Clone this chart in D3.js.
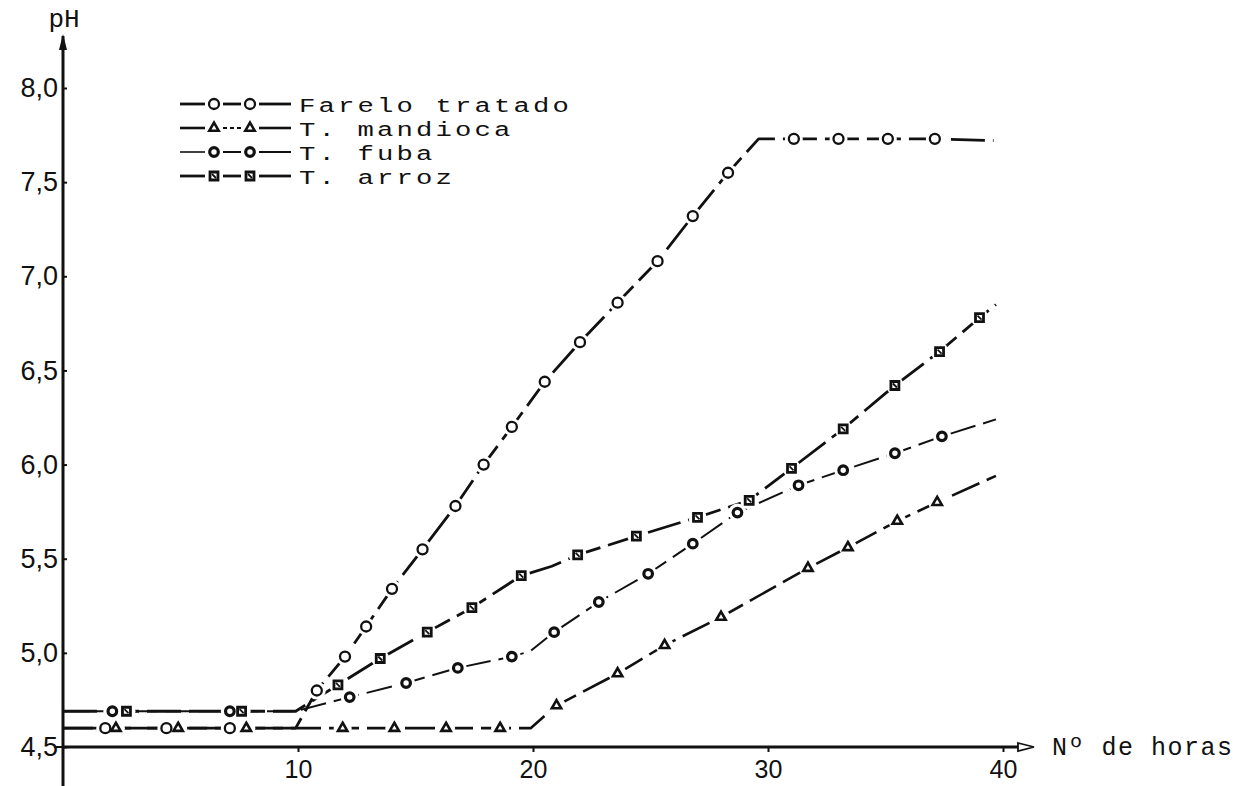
<!DOCTYPE html>
<html>
<head>
<meta charset="utf-8">
<script src="https://cdn.jsdelivr.net/npm/d3@7.9.0/dist/d3.min.js"></script>
<style>
  body { margin: 0; background: #fff; }
  svg { display: block; }
  .num { font-family: "Liberation Sans", "DejaVu Sans", sans-serif; font-size: 26px; fill: #111; }
  .type { font-family: "Liberation Mono", "DejaVu Sans Mono", monospace; fill: #111; }
</style>
</head>
<body>
<svg id="chart" width="1235" height="786"></svg>
<script>
// series names as in the legend
const seriesNames = ['Farelo tratado', 'T. mandioca', 'T. fuba', 'T. arroz'];

// [hours, pH, symbol drawn (1) or just a bend of the line (0)]
const farelo = [
  [0, 4.6, 0], [1.8, 4.6, 1], [4.4, 4.6, 1], [7.1, 4.6, 1], [9.9, 4.6, 0],
  [10.8, 4.8, 1], [12.0, 4.98, 1], [12.9, 5.14, 1], [14.0, 5.34, 1], [15.3, 5.55, 1],
  [16.7, 5.78, 1], [17.9, 6.0, 1], [19.1, 6.2, 1], [20.5, 6.44, 1], [22.0, 6.65, 1],
  [23.6, 6.86, 1], [25.3, 7.08, 1], [26.8, 7.32, 1], [28.3, 7.55, 1], [29.6, 7.73, 0],
  [31.1, 7.73, 1], [33.0, 7.73, 1], [35.1, 7.73, 1], [37.1, 7.73, 1], [39.6, 7.72, 0]
];
const mandioca = [
  [0, 4.6, 0], [2.25, 4.6, 1], [4.9, 4.6, 1], [7.8, 4.6, 1],
  [11.9, 4.6, 1], [14.1, 4.6, 1], [16.3, 4.6, 1], [18.6, 4.6, 1], [19.9, 4.6, 0],
  [21.0, 4.72, 1], [23.6, 4.89, 1], [25.6, 5.04, 1], [28.0, 5.19, 1], [31.7, 5.45, 1],
  [33.4, 5.56, 1], [35.5, 5.7, 1], [37.2, 5.8, 1], [39.7, 5.94, 0]
];
const fuba = [
  [0, 4.69, 0], [2.1, 4.69, 1], [7.1, 4.69, 1], [9.9, 4.69, 0],
  [12.2, 4.765, 1], [14.6, 4.84, 1], [16.8, 4.92, 1], [19.1, 4.98, 1], [19.9, 5.01, 0],
  [20.9, 5.11, 1], [22.8, 5.27, 1], [24.9, 5.42, 1], [26.8, 5.58, 1], [28.7, 5.745, 1],
  [31.3, 5.89, 1], [33.2, 5.97, 1], [35.4, 6.06, 1], [37.4, 6.15, 1], [39.7, 6.24, 0]
];
const arroz = [
  [0, 4.69, 0], [2.7, 4.69, 1], [7.6, 4.69, 1], [9.9, 4.69, 0],
  [11.7, 4.83, 1], [13.5, 4.97, 1], [15.5, 5.11, 1], [17.4, 5.24, 1], [19.5, 5.41, 1],
  [20.8, 5.46, 0], [21.9, 5.52, 1], [24.4, 5.62, 1], [27.0, 5.72, 1], [29.2, 5.81, 1],
  [31.0, 5.98, 1], [33.2, 6.19, 1], [35.4, 6.42, 1], [37.3, 6.6, 1], [39.0, 6.78, 1],
  [39.7, 6.85, 0]
];

const yTicks = [4.5, 5.0, 5.5, 6.0, 6.5, 7.0, 7.5, 8.0];
const xTicks = [10, 20, 30, 40];

const svg = d3.select('#chart');

const x = d3.scaleLinear().domain([0, 40]).range([63, 1003]);
const y = d3.scaleLinear().domain([4.5, 8.0]).range([747, 88]);

// line and symbol style per series
const styles = [
  { data: farelo,   kind: 'circle',   dash: '34,8', width: 2.8 },
  { data: mandioca, kind: 'triangle', dash: '30,8', width: 2.6 },
  { data: fuba,     kind: 'dot',      dash: '26,8', width: 2.0 },
  { data: arroz,    kind: 'square',   dash: '34,8', width: 2.8 }
];

function drawMark(g, kind, cx, cy) {
  if (kind === 'circle') {
    g.append('circle').attr('cx', cx).attr('cy', cy).attr('r', 5)
      .attr('fill', '#fff').attr('stroke', '#111').attr('stroke-width', 2.3);
  } else if (kind === 'dot') {
    g.append('circle').attr('cx', cx).attr('cy', cy).attr('r', 4.3)
      .attr('fill', '#fff').attr('stroke', '#111').attr('stroke-width', 3.2);
  } else if (kind === 'triangle') {
    g.append('path').attr('transform', `translate(${cx},${cy})`)
      .attr('d', d3.symbol(d3.symbolTriangle, 38)())
      .attr('fill', '#fff').attr('stroke', '#111').attr('stroke-width', 2.6);
  } else {
    g.append('path').attr('transform', `translate(${cx},${cy})`)
      .attr('d', d3.symbol(d3.symbolSquare, 64)())
      .attr('fill', '#fff').attr('stroke', '#111').attr('stroke-width', 2.8);
    g.append('line').attr('x1', cx - 2).attr('y1', cy - 2).attr('x2', cx + 2).attr('y2', cy + 2)
      .attr('stroke', '#111').attr('stroke-width', 1.8);
  }
}

// axes
const yAxis = d3.axisLeft(y).tickValues(yTicks).tickSize(-4).tickPadding(5)
  .tickFormat(d => d3.format('.1f')(d).replace('.', ','));
const yg = svg.append('g').attr('transform', `translate(${x(0)},0)`).call(yAxis);
yg.select('.domain').remove();
yg.selectAll('.tick line').attr('stroke', '#111').attr('stroke-width', 2);
yg.selectAll('.tick text').attr('class', 'num').style('font-size', '27px');

const xAxis = d3.axisBottom(x).tickValues(xTicks).tickSize(5).tickPadding(8);
const xg = svg.append('g').attr('transform', `translate(0,${y(4.5)})`).call(xAxis);
xg.select('.domain').remove();
xg.selectAll('.tick line').attr('stroke', '#111').attr('stroke-width', 2);
xg.selectAll('.tick text').attr('class', 'num').style('font-size', '25px');

// axis lines with arrows
svg.append('line').attr('x1', x(0)).attr('x2', x(0)).attr('y1', 36).attr('y2', 786)
  .attr('stroke', '#111').attr('stroke-width', 3);
svg.append('path').attr('d', `M${x(0)},34 L${x(0) - 4},50 L${x(0) + 4},50 Z`).attr('fill', '#111');
svg.append('line').attr('x1', 54).attr('x2', x(0)).attr('y1', y(4.5)).attr('y2', y(4.5))
  .attr('stroke', '#111').attr('stroke-width', 2);
svg.append('line').attr('x1', x(0)).attr('x2', 1020).attr('y1', y(4.5)).attr('y2', y(4.5))
  .attr('stroke', '#111').attr('stroke-width', 2.8);
svg.append('path').attr('d', `M1018,${y(4.5) - 4} L1034,${y(4.5)} L1018,${y(4.5) + 4} Z`)
  .attr('fill', '#fff').attr('stroke', '#111').attr('stroke-width', 1.8);

svg.append('text').attr('class', 'type').attr('x', 64).attr('y', 27)
  .attr('text-anchor', 'middle').style('font-size', '26px').text('pH');
svg.append('text').attr('class', 'type').attr('x', 1052).attr('y', y(4.5) + 8)
  .style('font-size', '25px').style('letter-spacing', '1.5px').text('N\u00ba de horas');

// series lines
const line = d3.line().x(d => x(d[0])).y(d => y(d[1]));
styles.forEach(s => {
  svg.append('path').datum(s.data).attr('d', line)
    .attr('fill', 'none').attr('stroke', '#111')
    .attr('stroke-width', s.width).attr('stroke-dasharray', s.dash)
    .attr('stroke-linejoin', 'round');
});

// white gaps around symbols, then symbols
styles.forEach(s => {
  svg.append('g').selectAll('circle').data(s.data.filter(d => d[2]))
    .join('circle').attr('cx', d => x(d[0])).attr('cy', d => y(d[1])).attr('r', 9)
    .attr('fill', '#fff');
});
styles.forEach(s => {
  const g = svg.append('g');
  s.data.filter(d => d[2]).forEach(d => drawMark(g, s.kind, x(d[0]), y(d[1])));
});

// legend: dash, symbol, dash, symbol, dash, then the name
const legend = svg.append('g');
seriesNames.forEach((name, i) => {
  const ly = 104 + i * 24;
  const s = styles[i];
  const seg = (x1, x2, dash, w) => legend.append('line')
    .attr('x1', x1).attr('x2', x2).attr('y1', ly).attr('y2', ly)
    .attr('stroke', '#111').attr('stroke-width', w).attr('stroke-dasharray', dash);
  seg(180, 205, null, i === 2 ? 1.6 : s.width);
  seg(223, 241, i === 1 ? '4,3' : null, i === 1 ? 1.8 : s.width);
  seg(259, 291, null, s.width);
  [214, 250].forEach(mx => drawMark(legend, s.kind, mx, ly));
  legend.append('text').attr('class', 'type')
    .attr('transform', `translate(299,${ly + 8}) scale(1.3,1)`)
    .style('font-size', '21px').style('letter-spacing', '2.4px').text(name);
});
</script>
</body>
</html>
